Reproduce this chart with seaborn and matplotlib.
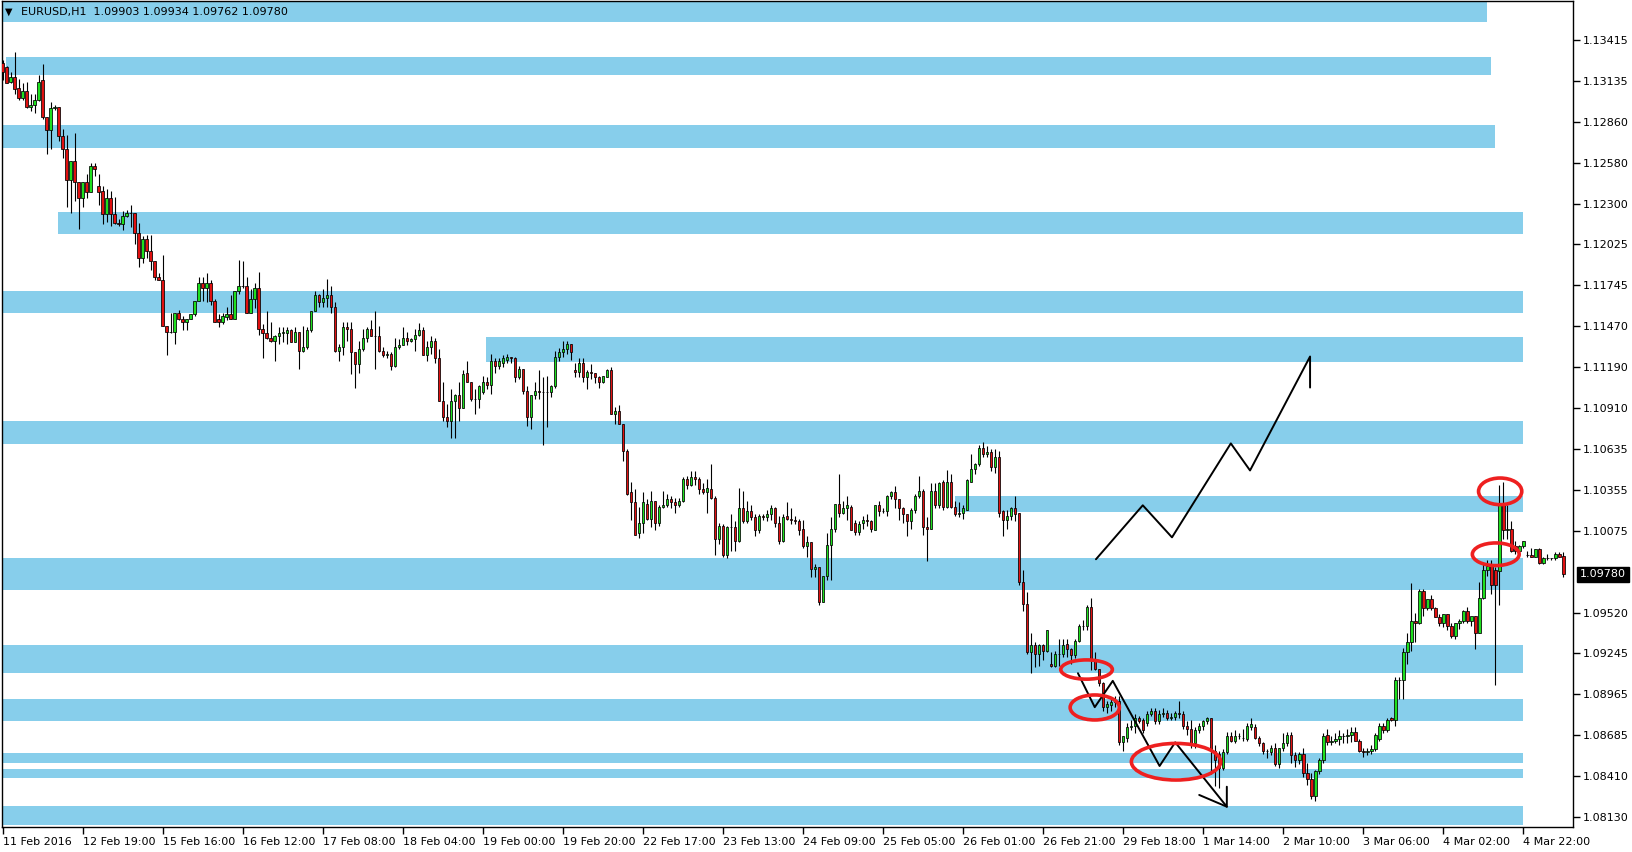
import numpy as np
import pandas as pd
import seaborn as sns
import matplotlib.pyplot as plt
from matplotlib.patches import Rectangle, Ellipse

BASE = 1.08

open_pips = [
    526, 523, 513, 516, 509, 502, 507, 496, 497, 501, 514, 489, 480, 495, 496, 476, 467, 446, 459, 445,
    434, 445, 438, 456, 442, 439, 423, 434, 423, 417, 416, 422, 424, 424, 410, 393, 406, 398, 391, 380,
    378, 347, 343, 343, 356, 352, 350, 352, 355, 364, 376, 373, 376, 364, 352, 350, 353, 355, 352, 371,
    374, 374, 356, 365, 373, 345, 342, 339, 337, 340, 342, 342, 344, 336, 343, 330, 333, 344, 357, 368,
    363, 366, 368, 360, 330, 333, 346, 345, 329, 321, 331, 339, 345, 340, 340, 330, 327, 328, 320, 333,
    334, 339, 337, 338, 341, 344, 327, 333, 337, 325, 296, 285, 282, 296, 300, 291, 315, 309, 297, 297,
    302, 309, 307, 323, 320, 322, 324, 326, 325, 312, 318, 303, 285, 300, 303, 302, 302, 302, 306, 326,
    329, 331, 335, 317, 316, 322, 312, 316, 315, 312, 309, 312, 317, 287, 289, 280, 262, 234, 227, 206,
    213, 226, 216, 228, 213, 224, 225, 229, 227, 225, 228, 243, 239, 244, 243, 236, 234, 236, 230, 202,
    211, 191, 210, 210, 201, 223, 214, 221, 217, 208, 218, 217, 219, 223, 213, 201, 218, 216, 215, 214,
    209, 197, 200, 182, 183, 159, 177, 198, 209, 226, 220, 223, 224, 213, 207, 213, 215, 214, 208, 225,
    221, 221, 231, 234, 229, 223, 219, 214, 222, 231, 235, 210, 209, 235, 225, 241, 224, 241, 224, 219,
    220, 222, 241, 250, 253, 264, 260, 261, 251, 258, 221, 215, 218, 223, 220, 173, 158, 125, 130, 124,
    130, 126, 117, 116, 124, 124, 131, 127, 123, 133, 143, 143, 156, 120, 114, 104, 88, 89, 91, 92,
    64, 67, 74, 75, 80, 79, 77, 83, 85, 78, 83, 84, 80, 81, 84, 83, 75, 73, 63, 72,
    75, 78, 80, 58, 56, 46, 57, 68, 65, 68, 67, 66, 74, 74, 67, 63, 58, 57, 60, 49,
    60, 63, 69, 55, 52, 56, 43, 39, 27, 44, 52, 69, 64, 65, 66, 68, 68, 69, 71, 65,
    58, 57, 58, 59, 66, 75, 72, 80, 79, 106, 106, 125, 132, 146, 145, 167, 155, 161, 155, 149,
    145, 151, 143, 136, 145, 146, 153, 146, 150, 138, 162, 181, 185, 181, 180, 225, 208, 209, 197, 194,
    197, 191, 191, 190, 195, 186, 189, 189, 189, 192, 190.3,
]

high_pips = [
    528, 524, 520, 533, 515, 512, 513, 505, 505, 518, 525, 489, 499, 497, 496, 481, 477, 459, 478, 445,
    445, 450, 458, 458, 450, 442, 440, 439, 435, 420, 425, 426, 429, 424, 417, 408, 409, 409, 391, 383,
    395, 347, 356, 356, 358, 354, 352, 355, 364, 380, 380, 383, 378, 365, 355, 356, 360, 368, 371, 392,
    391, 380, 372, 376, 384, 348, 357, 350, 341, 346, 346, 346, 345, 346, 343, 347, 346, 357, 371, 369,
    372, 379, 374, 363, 335, 350, 350, 350, 329, 337, 345, 346, 351, 357, 347, 333, 330, 329, 339, 338,
    346, 343, 339, 345, 349, 346, 337, 340, 339, 331, 309, 294, 304, 301, 309, 317, 323, 309, 304, 307,
    313, 312, 328, 325, 325, 327, 328, 326, 326, 320, 318, 306, 300, 309, 317, 312, 313, 307, 330, 332,
    337, 337, 335, 322, 325, 325, 317, 321, 315, 313, 313, 318, 319, 292, 293, 280, 263, 241, 236, 224,
    234, 229, 235, 228, 225, 235, 233, 231, 230, 230, 244, 245, 248, 248, 244, 240, 243, 253, 231, 213,
    212, 211, 219, 214, 237, 235, 228, 225, 219, 219, 219, 222, 225, 224, 218, 219, 227, 223, 218, 216,
    215, 204, 200, 185, 183, 177, 206, 217, 226, 246, 228, 231, 225, 215, 214, 218, 219, 215, 225, 228,
    223, 232, 235, 238, 229, 224, 219, 223, 233, 245, 236, 217, 240, 240, 241, 242, 249, 246, 228, 227,
    225, 243, 260, 254, 266, 268, 265, 263, 263, 262, 222, 222, 224, 231, 220, 181, 166, 138, 132, 131,
    131, 140, 125, 126, 134, 134, 134, 128, 134, 144, 147, 157, 162, 125, 114, 105, 92, 93, 95, 95,
    68, 77, 79, 83, 82, 80, 85, 87, 87, 86, 87, 86, 84, 85, 92, 85, 78, 79, 74, 77,
    79, 81, 80, 62, 58, 59, 71, 71, 72, 70, 73, 77, 80, 76, 68, 64, 59, 62, 63, 60,
    70, 71, 71, 57, 57, 60, 50, 43, 45, 53, 70, 73, 68, 70, 72, 70, 73, 74, 74, 66,
    60, 60, 62, 70, 77, 77, 80, 81, 108, 108, 128, 138, 172, 152, 168, 168, 161, 164, 156, 151,
    151, 151, 145, 145, 148, 154, 156, 149, 150, 173, 185, 188, 188, 183, 239, 241, 225, 214, 201, 198,
    201, 194, 196, 195, 196, 190, 192, 189, 193, 193, 193.4,
]

low_pips = [
    514, 512, 512, 505, 501, 501, 495, 493, 492, 500, 488, 464, 467, 494, 473, 461, 428, 424, 432, 413,
    428, 434, 438, 449, 429, 416, 418, 415, 416, 415, 412, 421, 414, 403, 387, 390, 393, 385, 378, 378,
    347, 327, 342, 335, 351, 344, 344, 352, 354, 364, 364, 363, 361, 350, 346, 348, 351, 352, 352, 369,
    373, 356, 356, 359, 341, 325, 338, 336, 323, 335, 336, 335, 336, 336, 318, 329, 331, 343, 357, 360,
    360, 360, 356, 329, 323, 327, 337, 314, 305, 315, 330, 336, 340, 318, 329, 326, 325, 317, 319, 331,
    334, 334, 336, 330, 340, 327, 323, 328, 322, 296, 282, 278, 271, 271, 282, 291, 309, 296, 287, 291,
    301, 304, 301, 315, 318, 319, 322, 322, 309, 311, 301, 279, 277, 297, 297, 266, 278, 299, 305, 323,
    326, 328, 324, 312, 312, 309, 304, 311, 308, 305, 308, 312, 287, 280, 280, 255, 232, 215, 205, 203,
    206, 215, 210, 208, 211, 223, 224, 223, 220, 224, 227, 236, 238, 239, 233, 233, 220, 229, 191, 199,
    190, 189, 194, 194, 200, 213, 213, 215, 204, 206, 215, 214, 215, 210, 199, 200, 215, 212, 212, 205,
    196, 190, 176, 176, 157, 159, 174, 174, 207, 217, 219, 215, 208, 205, 205, 209, 211, 207, 208, 218,
    220, 218, 229, 223, 215, 213, 204, 209, 220, 230, 205, 187, 209, 223, 223, 222, 223, 223, 218, 217,
    216, 222, 241, 246, 252, 258, 258, 248, 247, 217, 204, 209, 215, 214, 171, 153, 124, 111, 115, 116,
    120, 125, 115, 115, 116, 122, 122, 117, 121, 132, 140, 140, 113, 113, 102, 85, 84, 85, 88, 62,
    58, 64, 72, 70, 77, 70, 75, 82, 76, 76, 81, 79, 79, 79, 80, 73, 69, 60, 60, 70,
    72, 76, 42, 34, 33, 45, 56, 64, 63, 66, 65, 65, 72, 66, 61, 56, 53, 55, 48, 46,
    58, 61, 50, 47, 49, 40, 35, 25, 24, 42, 50, 62, 62, 63, 62, 63, 63, 64, 65, 57,
    54, 55, 56, 58, 65, 70, 71, 78, 75, 93, 93, 117, 126, 132, 144, 150, 154, 154, 149, 143,
    142, 140, 135, 134, 141, 145, 145, 143, 127, 138, 161, 177, 165, 103, 157, 202, 202, 193, 192, 193,
    196, 190, 190, 190, 185, 185, 188, 188, 188, 190, 176.2,
]

close_pips = [
    520, 512, 516, 508, 502, 507, 496, 497, 501, 513, 489, 480, 495, 496, 476, 467, 446, 459, 445, 434,
    445, 438, 456, 454, 438, 423, 434, 423, 417, 416, 422, 424, 424, 410, 393, 406, 398, 391, 380, 378,
    347, 343, 343, 356, 352, 350, 352, 355, 364, 376, 373, 376, 364, 350, 350, 354, 355, 352, 371, 374,
    374, 356, 365, 373, 345, 342, 339, 337, 340, 342, 343, 344, 336, 343, 330, 333, 344, 357, 368, 363,
    366, 368, 360, 330, 333, 346, 345, 329, 321, 331, 339, 345, 340, 340, 330, 327, 328, 320, 333, 334,
    339, 337, 338, 341, 344, 327, 333, 337, 325, 296, 285, 282, 296, 300, 291, 314, 309, 297, 297, 306,
    309, 307, 323, 320, 323, 325, 326, 325, 312, 318, 303, 285, 300, 303, 302, 302, 302, 306, 326, 329,
    331, 335, 329, 316, 322, 312, 316, 315, 312, 309, 313, 317, 287, 289, 280, 262, 233, 227, 205, 213,
    227, 216, 228, 213, 224, 225, 229, 227, 225, 228, 243, 239, 244, 243, 236, 234, 237, 230, 202, 211,
    191, 210, 210, 201, 223, 214, 221, 217, 208, 218, 217, 219, 223, 213, 201, 217, 216, 215, 214, 208,
    197, 200, 182, 183, 159, 177, 198, 209, 226, 220, 223, 225, 208, 207, 212, 215, 214, 209, 225, 221,
    221, 231, 234, 229, 223, 219, 214, 222, 231, 235, 210, 209, 235, 225, 240, 224, 241, 224, 219, 220,
    223, 242, 250, 253, 264, 260, 261, 251, 258, 220, 215, 218, 223, 219, 173, 158, 125, 130, 124, 130,
    126, 140, 116, 124, 124, 130, 127, 123, 133, 143, 143, 156, 120, 114, 104, 88, 90, 91, 92, 64,
    68, 74, 75, 80, 78, 72, 83, 85, 78, 83, 84, 80, 81, 84, 83, 75, 73, 63, 72, 75,
    78, 80, 58, 52, 46, 57, 68, 65, 68, 68, 67, 75, 76, 67, 63, 58, 58, 60, 49, 60,
    63, 69, 55, 52, 56, 43, 39, 27, 44, 52, 68, 64, 65, 66, 68, 68, 69, 71, 65, 58,
    57, 58, 59, 69, 75, 72, 79, 79, 106, 106, 125, 132, 146, 145, 167, 155, 161, 155, 149, 145,
    151, 143, 136, 145, 146, 153, 146, 150, 138, 162, 181, 184, 171, 171, 225, 208, 209, 194, 194, 197,
    201, 191, 190, 195, 186, 189, 189, 189, 192, 190, 178.0,
]

time_labels = ["11 Feb 2016", "12 Feb 19:00", "15 Feb 16:00", "16 Feb 12:00", "17 Feb 08:00",
               "18 Feb 04:00", "19 Feb 00:00", "19 Feb 20:00", "22 Feb 17:00", "23 Feb 13:00",
               "24 Feb 09:00", "25 Feb 05:00", "26 Feb 01:00", "26 Feb 21:00", "29 Feb 18:00",
               "1 Mar 14:00", "2 Mar 10:00", "3 Mar 06:00", "4 Mar 02:00", "4 Mar 22:00"]
label_every = 20

price_ticks = [1.13415, 1.13135, 1.12860, 1.12580, 1.12300, 1.12025, 1.11745, 1.11470, 1.11190,
               1.10910, 1.10635, 1.10355, 1.10075, 1.09520, 1.09245, 1.08965, 1.08685, 1.08410, 1.08130]
last_price = 1.09780

# support / resistance rectangles: start bar, end bar, bottom price, top price
zone_start = [-1, 0.9, -1, 13.9, -1, 120.9, -1, 237.9, -1, -1, -1, -1, -1, -1]
zone_end = [370.9, 371.9, 372.9, 380, 380, 380, 380, 380, 380, 380, 380, 380, 380, 380]
zone_low = [1.13537, 1.13177, 1.12683, 1.12092, 1.11561, 1.11223, 1.10664, 1.10204,
            1.09672, 1.09110, 1.08784, 1.08499, 1.08397, 1.08076]
zone_high = [1.13700, 1.13300, 1.12838, 1.12247, 1.11710, 1.11398, 1.10820, 1.10311,
             1.09892, 1.09299, 1.08932, 1.08567, 1.08456, 1.08205]

# hand drawn projections (bar, price)
up_path_bar = [273.2, 284.9, 292.2, 306.9, 311.7, 326.7, 326.7]
up_path_price = [1.09883, 1.10250, 1.10032, 1.10671, 1.10487, 1.11262, 1.11051]
down_path_bar = [268.7, 272.9, 277.4, 289.1, 293.0, 305.9, 305.9]
down_path_price = [1.09108, 1.08877, 1.09056, 1.08477, 1.08638, 1.08200, 1.08336]
down_head_bar = [299.0, 305.9]
down_head_price = [1.08280, 1.08200]

# red circles: centre bar, centre price, width (bars), height (price)
ring_bar = [270.85, 272.9, 293.2, 374.2, 373.1]
ring_price = [1.09133, 1.08875, 1.08506, 1.10345, 1.09917]
ring_w = [12.9, 12.3, 22.3, 10.8, 11.7]
ring_h = [0.00131, 0.00170, 0.00249, 0.00181, 0.00154]


df = pd.DataFrame({
    "open": BASE + np.array(open_pips) / 1e4,
    "high": BASE + np.array(high_pips) / 1e4,
    "low": BASE + np.array(low_pips) / 1e4,
    "close": BASE + np.array(close_pips) / 1e4,
})
df["bar"] = np.arange(len(df))
df["up"] = df["close"] >= df["open"]

sns.set_style("white")
plt.rcParams["font.family"] = ["DejaVu Sans"]

fig = plt.figure(figsize=(16.33, 8.52), dpi=100)
ax = fig.add_axes([2 / 1633, 25 / 852, 1571 / 1633, 826 / 852])

for x0, x1, lo, hi in zip(zone_start, zone_end, zone_low, zone_high):
    ax.add_patch(Rectangle((x0, lo), x1 - x0, hi - lo, facecolor="#87ceeb",
                           edgecolor="none", zorder=0))

# candles
ax.vlines(df["bar"], df["low"], df["high"], colors="black", lw=0.8, zorder=2)
body_lo = df[["open", "close"]].min(axis=1)
body_hi = df[["open", "close"]].max(axis=1)
colors = np.where(df["up"], "#1ee01e", "#e01010")
ax.bar(df["bar"], body_hi - body_lo, bottom=body_lo, width=0.62, color=colors,
       edgecolor="black", linewidth=0.55, zorder=3)

# projections
sns.lineplot(x=up_path_bar, y=up_path_price, sort=False, estimator=None,
             color="black", lw=1.4, ax=ax, zorder=4)
sns.lineplot(x=down_path_bar, y=down_path_price, sort=False, estimator=None,
             color="black", lw=1.4, ax=ax, zorder=4)
sns.lineplot(x=down_head_bar, y=down_head_price, sort=False, estimator=None,
             color="black", lw=1.4, ax=ax, zorder=4)

for cx, cy, w, h in zip(ring_bar, ring_price, ring_w, ring_h):
    ax.add_patch(Ellipse((cx, cy), w, h, fill=False, edgecolor="#ee2020", lw=2.6, zorder=5))

ax.set_xlim(-0.15, 392.4)
ax.set_ylim(1.08062, 1.13680)

ax.yaxis.tick_right()
ax.set_yticks(price_ticks)
ax.set_yticklabels([f"{p:.5f}" for p in price_ticks])
ax.set_xticks(np.arange(len(time_labels)) * label_every)
ax.set_xticklabels(time_labels, ha="left")
ax.tick_params(axis="y", right=True, left=False, direction="out", length=5, width=1,
               labelsize=8, pad=2, colors="black")
ax.tick_params(axis="x", bottom=True, direction="out", length=5, width=1,
               labelsize=8, pad=2, colors="black")
for s in ax.spines.values():
    s.set_color("black")
    s.set_linewidth(1)
ax.set_xlabel("")
ax.set_ylabel("")
ax.grid(False)

ax.annotate(f"{last_price:.5f}", xy=(1.0, last_price), xycoords=("axes fraction", "data"),
            xytext=(5, 0), textcoords="offset points", ha="left", va="center",
            fontsize=8, color="white",
            bbox=dict(boxstyle="square,pad=0.25", fc="black", ec="black"))

fig.text(5 / 1633, 1 - 12 / 852, "\u25bc", fontsize=7, va="center", ha="left", color="black")
fig.text(21 / 1633, 1 - 12 / 852, "EURUSD,H1  1.09903 1.09934 1.09762 1.09780",
         fontsize=8, va="center", ha="left", color="black")

fig.savefig("out.png", dpi=100)
